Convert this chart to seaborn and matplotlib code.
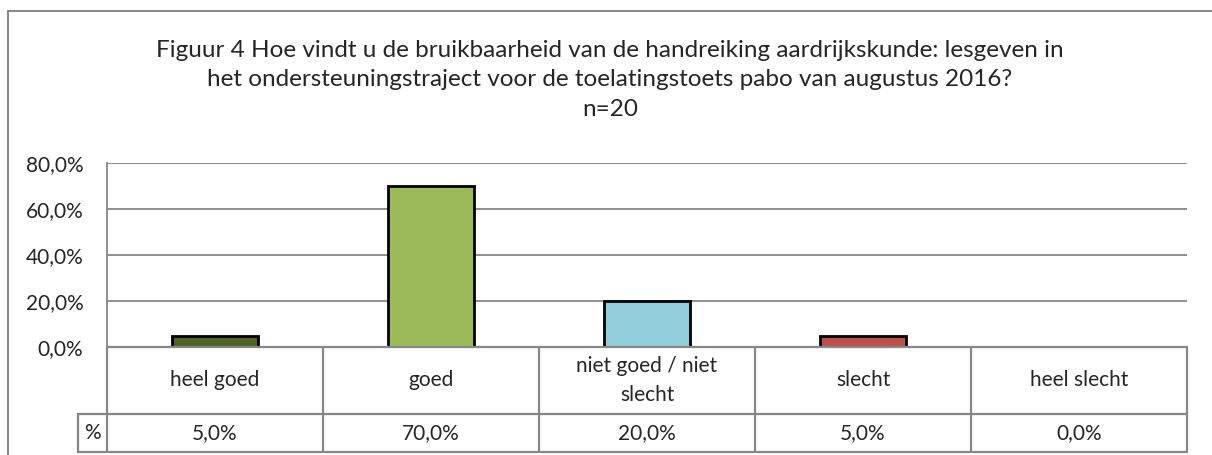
import numpy as np
import pandas as pd
import matplotlib.pyplot as plt
from matplotlib.lines import Line2D
import seaborn as sns

categories = ["heel goed", "goed", "niet goed / niet\nslecht", "slecht", "heel slecht"]
percentages = [5.0, 70.0, 20.0, 5.0, 0.0]
bar_colors = ["#4F6228", "#9BBB59", "#92CDDC", "#C0504D", "#8064A2"]
yticks = [0, 20, 40, 60, 80]
title = ("Figuur 4 Hoe vindt u de bruikbaarheid van de handreiking aardrijkskunde: lesgeven in\n"
         "het ondersteuningstraject voor de toelatingstoets pabo van augustus 2016?\n"
         "n=20")

sns.set_theme(style="white")
plt.rcParams['font.family'] = ['Lato', 'DejaVu Sans']

df = pd.DataFrame({"categorie": categories, "pct": percentages})

W, H = 1212, 455
fig = plt.figure(figsize=(W / 100, H / 100), dpi=100)
ax = fig.add_axes([107 / W, (H - 347) / H, (1187 - 107) / W, (347 - 163) / H])

sns.barplot(data=df, x="categorie", y="pct", hue="categorie", palette=bar_colors,
            legend=False, width=0.4, edgecolor="black", linewidth=2, ax=ax, saturation=1)

fs = 15
grid_c = "#878787"
ax.set_ylim(0, 80)
ax.set_xlim(-0.5, len(categories) - 0.5)
ax.set_yticks(yticks)
ax.set_yticklabels([f"{t:.1f}%".replace(".", ",") for t in yticks], fontsize=fs)
ax.tick_params(axis="y", length=0, pad=17)
ax.set_xticks([])
ax.set_xlabel("")
ax.set_ylabel("")
for t in yticks[1:]:
    ax.axhline(t, color=grid_c, lw=1.3, zorder=0)
for s in ["top", "right", "bottom"]:
    ax.spines[s].set_visible(False)
ax.spines["left"].set_color(grid_c)
ax.spines["left"].set_linewidth(1.3)

# data table below the axis
tr = ax.get_xaxis_transform()
row1 = -(414 - 347) / 184
row2 = -(452 - 347) / 184
pct_left = -0.5 - (107 - 78) / 216
n = len(categories)
kw = dict(color=grid_c, lw=1.6, transform=tr, clip_on=False)
ax.add_line(Line2D([-0.5, n - 0.5], [0, 0], **kw))
ax.add_line(Line2D([pct_left, n - 0.5], [row1, row1], **kw))
ax.add_line(Line2D([pct_left, n - 0.5], [row2, row2], **kw))
for i in range(n + 1):
    ax.add_line(Line2D([i - 0.5, i - 0.5], [0, row2], **kw))
ax.add_line(Line2D([pct_left, pct_left], [row1, row2], **kw))
ax.text((pct_left - 0.5) / 2, (row1 + row2) / 2, "%", transform=tr, ha="center",
        va="center", fontsize=fs)
for i, (c, p) in enumerate(zip(categories, percentages)):
    ax.text(i, row1 / 2, c, transform=tr, ha="center", va="center", fontsize=fs,
            linespacing=1.6)
    ax.text(i, (row1 + row2) / 2, f"{p:.1f}%".replace(".", ","), transform=tr,
            ha="center", va="center", fontsize=fs)

fig.text(610 / W, 1 - 80 / H, title, ha="center", va="center", fontsize=17.5,
         linespacing=1.5)

# chart area border (left and top visible)
fig.add_artist(Line2D([8 / W, 8 / W], [0, 1 - 11 / H], color="#7f7f7f", lw=1.3,
                      transform=fig.transFigure))
fig.add_artist(Line2D([8 / W, 1], [1 - 11 / H, 1 - 11 / H], color="#7f7f7f", lw=1.3,
                      transform=fig.transFigure))

fig.savefig("out.png", dpi=100)
